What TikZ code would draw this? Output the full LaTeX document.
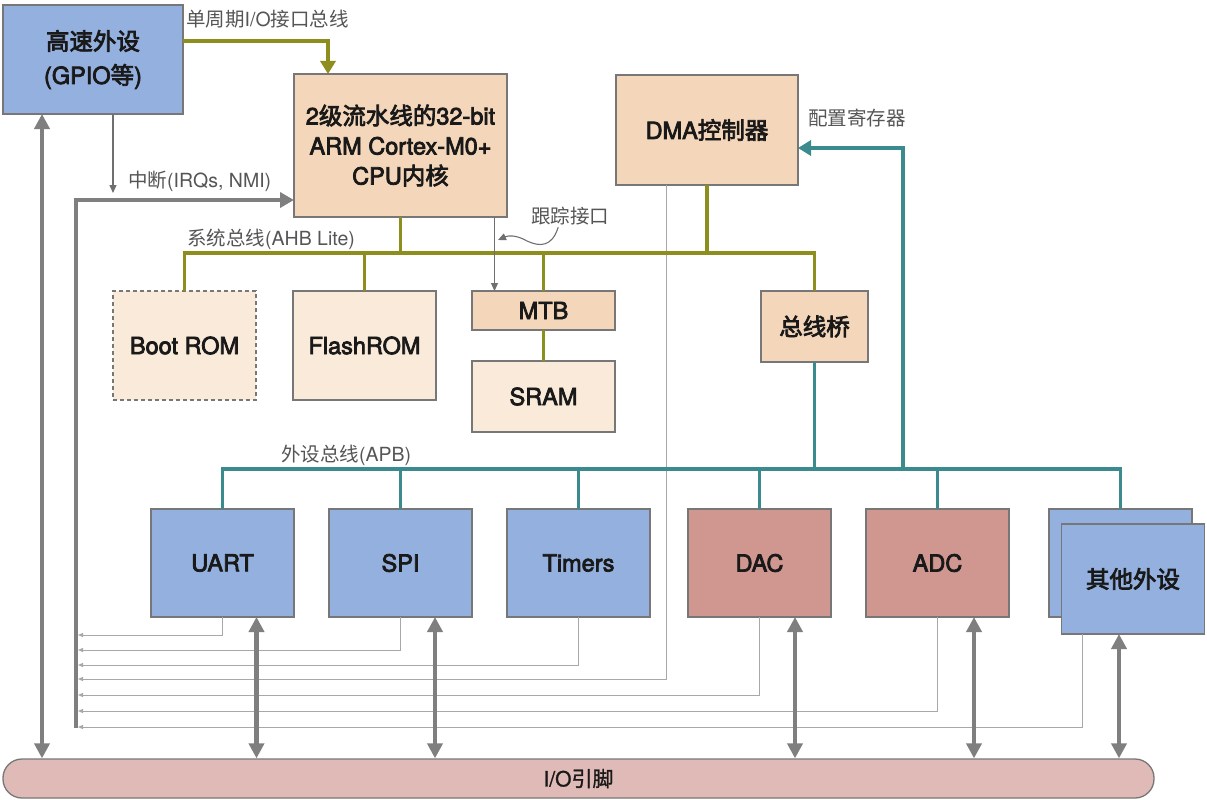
\documentclass[tikz,border=0pt]{standalone}
\usepackage{fontspec}
\setmainfont{TeX Gyre Heros}
\newfontfamily\cjk{Noto Sans CJK SC}
\newfontfamily\medlat{TeX Gyre Heros}[FakeBold=3.2]
\newfontfamily\medcjk{Noto Sans CJK SC}[FakeBold=3.2]
\newfontfamily\pilllat{TeX Gyre Heros}[FakeBold=1.2]
\newfontfamily\pillcjk{Noto Sans CJK SC}[FakeBold=1.2]
\usetikzlibrary{arrows.meta}
\newcommand{\zh}[1]{{\cjk #1}}
\definecolor{olivebus}{HTML}{8E8E1F}
\definecolor{tealbus}{HTML}{3A8A8E}
\definecolor{boxline}{HTML}{777777}
\definecolor{bluefill}{HTML}{94B0DE}
\definecolor{peach}{HTML}{F4D6BA}
\definecolor{lightpeach}{HTML}{FAEADA}
\definecolor{redfill}{HTML}{D09790}
\definecolor{pillfill}{HTML}{DFBAB6}
\definecolor{arrowgray}{HTML}{7F7F7F}
\definecolor{thingray}{HTML}{A8A8A8}
\definecolor{irqgray}{HTML}{6F6F6F}
\definecolor{labelgray}{HTML}{555555}
\begin{document}
\begin{tikzpicture}[x=1pt,y=-1pt,
  box/.style={draw=boxline,line width=1.3pt,inner sep=0pt,outer sep=0pt,align=center,
    font=\fontsize{23.5}{30}\selectfont\medlat\let\cjk\medcjk,text=black!90},
  lbl/.style={font=\fontsize{19.5}{22}\selectfont,text=labelgray,anchor=west,inner sep=0pt},
  ahb/.style={draw=olivebus,line width=3.6pt},
  apb/.style={draw=tealbus,line width=3.6pt},
  bigarrow/.style={draw=arrowgray,line width=4.5pt,
    {Triangle[length=15pt,width=15pt]}-{Triangle[length=15pt,width=15pt]}},
  fbline/.style={draw=thingray,line width=1pt,-{Triangle[length=5pt,width=4pt]}},
  thinarrow/.style={draw=irqgray,line width=1.1pt,-{Triangle[length=8pt,width=7pt]}}
]
\path[use as bounding box,fill=white] (0,0) rectangle (1207,800);

% ---------- helper coordinates ----------
\coordinate (gx) at (42,0);
\coordinate (irqbot) at (76,728);
\coordinate (ahbL) at (0,253);
\coordinate (apbL) at (0,469);
\coordinate (cfg) at (903,469);
\coordinate (fb1) at (78,635);
\coordinate (fb2) at (78,650);
\coordinate (fb3) at (78,665);
\coordinate (fb4) at (78,679);
\coordinate (fb5) at (78,695);
\coordinate (fb6) at (78,711);
\coordinate (fb7) at (78,727);

% ---------- nodes ----------
\node[box,fill=bluefill,minimum width=180pt,minimum height=109pt,font=\fontsize{23.5}{34}\selectfont\medlat\let\cjk\medcjk] (gpio) at (93,59.5) {\zh{高速外设}\\(GPIO\zh{等})};
\node[box,fill=peach,minimum width=213pt,minimum height=143pt] (cpu) at (400.5,145.5) {2\zh{级流水线的}32-bit\\ARM Cortex-M0+\\CPU\zh{内核}};
\node[box,fill=peach,minimum width=182pt,minimum height=110pt] (dma) at (707,130) {DMA\zh{控制器}};
\node[box,fill=lightpeach,dash pattern=on 4pt off 3pt,line width=1.2pt,minimum width=143pt,minimum height=109pt] (boot) at (184.5,345.5) {Boot ROM};
\node[box,fill=lightpeach,minimum width=143pt,minimum height=109pt] (flash) at (364.5,345.5) {FlashROM};
\node[box,fill=peach,minimum width=143pt,minimum height=39pt] (mtb) at (543.5,310.5) {MTB};
\node[box,fill=lightpeach,minimum width=143pt,minimum height=71pt] (sram) at (543.5,396.5) {SRAM};
\node[box,fill=peach,minimum width=107pt,minimum height=71pt] (bridge) at (814.5,326.5) {\zh{总线桥}};

\node[box,fill=bluefill,minimum width=143pt,minimum height=108pt] (uart) at (222.5,563) {UART};
\node[box,fill=bluefill,minimum width=143pt,minimum height=108pt] (spi) at (400.5,563) {SPI};
\node[box,fill=bluefill,minimum width=143pt,minimum height=108pt] (timers) at (578.5,563) {Timers};
\node[box,fill=redfill,minimum width=143pt,minimum height=108pt] (dac) at (759.5,563) {DAC};
\node[box,fill=redfill,minimum width=143pt,minimum height=108pt] (adc) at (937.5,563) {ADC};
\node[box,fill=bluefill,minimum width=143pt,minimum height=108pt] (otherb) at (1120.5,563) {};
\node[box,fill=bluefill,minimum width=143pt,minimum height=110pt] (other) at (1133,579) {\zh{其他外设}};

\node[draw=boxline,fill=pillfill,line width=1.3pt,rounded corners=19pt,inner sep=0pt,
  minimum width=1151pt,minimum height=39pt,font=\fontsize{21}{24}\selectfont\pilllat\let\cjk\pillcjk,text=black!90] (pill) at (578.5,778.5) {I/O\zh{引脚}};

% ---------- labels ----------
\node[lbl] (l1) at (186,19) {\zh{单周期}I/O\zh{接口总线}};
\node[lbl] (l2) at (128,181) {\zh{中断}(IRQs, NMI)};
\node[lbl] (l3) at (187,239) {\zh{系统总线}(AHB Lite)};
\node[lbl] (trace) at (531,216) {\zh{跟踪接口}};
\node[lbl] (l5) at (808,118) {\zh{配置寄存器}};
\node[lbl] (l6) at (281,455) {\zh{外设总线}(APB)};

% ---------- feedback (interrupt) lines ----------
\draw[fbline] (uart.south) |- (fb1);
\draw[fbline] (spi.south) |- (fb2);
\draw[fbline] (timers.south) |- (fb3);
\draw[fbline] ([xshift=-41pt]dma.south) |- (fb4);
\draw[fbline] (dac.south) |- (fb5);
\draw[fbline] (adc.south) |- (fb6);
\draw[fbline] ([xshift=-51pt]other.south) |- (fb7);

% ---------- system bus (AHB) ----------
\draw[ahb] (boot.north) -- (boot.north |- ahbL) -| (bridge.north);
\draw[ahb] (cpu.south) -- (cpu.south |- ahbL);
\draw[ahb] (flash.north) -- (flash.north |- ahbL);
\draw[ahb] (mtb.north) -- (mtb.north |- ahbL);
\draw[ahb] (dma.south) -- (dma.south |- ahbL);
\draw[ahb] (mtb) -- (sram);
\draw[ahb,-{Triangle[length=13pt,width=15pt]}] ([yshift=18.5pt]gpio.east) -| ([xshift=-72.5pt]cpu.north);

% ---------- peripheral bus (APB) ----------
\draw[apb] (uart.north) -- (uart.north |- apbL) -| (otherb.north);
\draw[apb] (spi.north) -- (spi.north |- apbL);
\draw[apb] (timers.north) -- (timers.north |- apbL);
\draw[apb] (dac.north) -- (dac.north |- apbL);
\draw[apb] (adc.north) -- (adc.north |- apbL);
\draw[apb] (bridge.south) -- (bridge.south |- apbL);
\draw[apb,-{Triangle[length=13pt,width=15pt]}] (cfg) |- ([yshift=-18pt]dma.east);

% ---------- interrupts & trace ----------
\draw[thinarrow] ([xshift=20pt]gpio.south) -- ++(0,79);
\draw[draw=arrowgray,line width=4pt,-{Triangle[length=14pt,width=15pt]}] (irqbot) |- ([yshift=-54.5pt]cpu.west);
\draw[thinarrow] ([xshift=94pt]cpu.south) -- ([xshift=94pt]cpu.south |- mtb.north);
\coordinate (trtip) at (498,240);
\draw[draw=irqgray,line width=1.1pt,-{Triangle[length=8pt,width=7pt]}]
  ([xshift=-12pt,yshift=-2pt]trace.south) .. controls (552,247) and (540,247) .. (527,241)
  .. controls (515,234) and (507,236) .. (trtip);

% ---------- I/O arrows ----------
\draw[bigarrow] (gpio.south -| gx) -- (pill.north -| gx);
\draw[bigarrow] ([xshift=34pt]uart.south) -- ([xshift=34pt]uart.south |- pill.north);
\draw[bigarrow] ([xshift=34.5pt]spi.south) -- ([xshift=34.5pt]spi.south |- pill.north);
\draw[bigarrow] ([xshift=35.5pt]dac.south) -- ([xshift=35.5pt]dac.south |- pill.north);
\draw[bigarrow] ([xshift=36.5pt]adc.south) -- ([xshift=36.5pt]adc.south |- pill.north);
\draw[bigarrow] ([xshift=-14pt]other.south) -- ([xshift=-14pt]other.south |- pill.north);
\end{tikzpicture}
\end{document}
